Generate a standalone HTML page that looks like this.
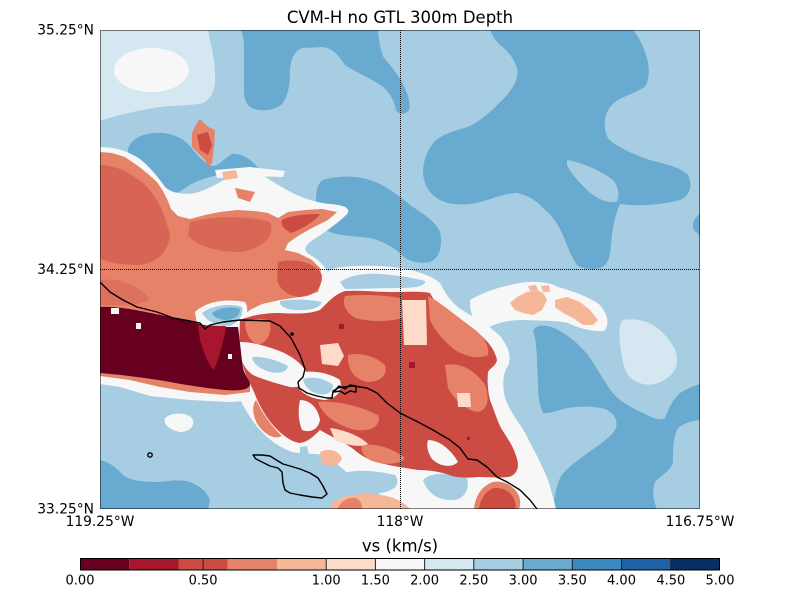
<!DOCTYPE html>
<html><head><meta charset="utf-8"><style>
html,body{margin:0;padding:0;background:#fff;}
svg{display:block;}
text{font-family:"DejaVu Sans","Liberation Sans",sans-serif;fill:#000;}
</style></head><body>
<svg width="800" height="600" viewBox="0 0 800 600" xmlns="http://www.w3.org/2000/svg">
<defs><clipPath id="c"><rect x="100" y="30" width="600" height="479"/></clipPath></defs>
<rect width="800" height="600" fill="#fff"/>
<g clip-path="url(#c)">
<rect x="100" y="30" width="600" height="479" fill="#a6cde2"/>
<path fill="#d5e7f1" d="M100,30 L208,30 C211,45 215,60 215,75 C216,88 212,98 203,103 C190,106 175,105 160,107 C140,110 118,115 100,121 Z"/>
<ellipse cx="151.5" cy="70" rx="37.5" ry="22" fill="#f7f7f7"/>
<g fill="#69aad0">
<path d="M241,30 L378,30 C379,40 380,50 384,58 C390,65 396,72 402,82 C407,92 411,102 409,110 C405,115 399,115 396,110 C394,100 390,93 382,86 C370,78 355,72 345,65 C338,55 333,48 322,47 L302,48 C294,52 291,58 290,70 C290,82 289,95 282,104 C277,109 268,111 258,110 C248,108 244,102 244,90 L244,50 C244,40 243,35 241,30 Z"/>
<path d="M490,30 L633,30 C640,38 645,50 648,62 C650,75 648,85 643,88 C635,93 625,96 618,100 C610,105 606,112 605,120 C604,130 606,138 612,142 C620,148 635,155 650,160 C665,164 680,167 688,175 C693,185 690,196 680,200 C665,204 645,206 630,205 L620,204 C615,215 612,230 611,245 C610,258 608,265 600,268 C592,270 582,269 577,265 C572,258 568,248 565,240 C560,228 555,218 545,210 C538,202 530,196 517,193 C505,193 495,198 480,202 C465,206 450,205 440,200 C430,195 424,185 423,173 C423,160 428,148 436,140 C446,132 460,130 470,126 C482,120 495,108 507,95 C515,85 519,77 517,68 C514,58 507,50 500,45 C495,40 492,35 490,30 Z"/>
<path d="M323,180 C335,176 355,175 370,180 C385,185 398,195 410,205 C425,215 436,222 440,232 C443,245 440,258 430,262 C420,264 410,262 403,256 C395,248 385,242 370,238 C355,236 340,236 330,232 C320,226 316,215 316,200 C316,190 318,183 323,180 Z"/>
<path d="M128,150 C130,140 140,134 155,133 C170,132 182,137 190,146 C196,154 202,162 212,166 C220,166 224,158 232,154 C242,153 252,160 258,168 C254,173 240,173 225,174 C210,176 198,180 188,186 C180,192 172,196 165,194 C155,190 147,182 140,172 C134,164 128,158 128,150 Z"/>
<path d="M700,214 C694,218 691,225 694,230 L700,236 Z"/>
<path d="M533,330 C538,324 548,324 560,331 C572,338 580,346 588,355 C596,366 603,380 612,392 C620,402 632,408 645,414 C653,418 660,421 665,418 C668,410 672,400 680,393 C688,388 694,386 700,384 L700,420 C692,421 684,423 678,428 C673,437 673,450 673,462 C670,472 660,476 655,482 C652,490 653,500 657,509 L553,509 C554,498 556,488 560,478 C566,468 578,460 592,450 C603,442 612,436 616,428 C618,420 614,413 605,409 C595,406 580,406 568,408 C558,410 550,414 543,413 C539,405 538,395 538,380 C537,365 537,348 535,338 Z"/>
<path d="M100,460 C108,462 115,466 122,474 C128,480 140,482 157,482 C170,481 180,479 190,482 C200,486 207,492 210,500 L208,509 L100,509 Z"/>
</g>
<path fill="#a6cde2" d="M567,160 C580,162 600,170 613,180 C619,187 620,198 616,202 C605,203 595,198 585,188 C577,180 570,172 567,165 Z"/>
<path fill="#d5e7f1" d="M623,320 C635,318 650,320 662,332 C672,342 678,352 677,362 C676,372 668,380 655,384 C645,386 635,383 629,376 C623,368 621,355 620,343 C619,332 619,324 623,320 Z"/>
<g fill="#f7f7f7">
<path d="M165,418 C172,412 185,412 192,418 C196,425 190,432 180,432 C170,430 163,425 165,418 Z"/>
<path d="M100,147 C115,147 128,151 140,159 C150,167 158,177 165,187 C172,193 182,195 195,193 C210,189 220,182 232,175 C240,170 246,167 252,170 C262,174 270,180 280,186 C295,195 310,202 330,204 C342,205 350,207 348,213 C340,222 325,232 310,242 C303,248 304,252 312,256 C322,262 330,272 334,285 L334,300 L100,300 Z"/>
<path d="M232,300 C250,292 275,288 300,285 C312,282 322,274 335,268 C355,265 380,265 400,268 C418,271 432,276 440,283 C445,292 450,302 462,310 C475,318 490,326 500,336 C508,346 512,356 508,366 C503,372 502,385 505,398 C510,410 515,418 521,426 C527,436 531,445 535,452 C540,462 545,472 548,480 C551,490 554,500 556,509 L400,509 C392,502 380,494 365,485 C352,477 340,468 332,458 C320,452 305,455 292,452 C278,447 265,437 255,424 C246,412 240,400 236,390 C233,375 232,350 232,300 Z"/>
<path d="M470,300 C480,294 495,288 510,285 C525,281 545,280 558,287 C572,291 588,296 600,305 C608,315 610,325 604,331 C592,332 578,328 568,323 C555,320 540,321 525,320 C510,320 498,322 488,328 C478,330 470,320 470,300 Z"/>
<path d="M215,170 L250,167 L285,171 L283,177 L250,176 L217,178 Z"/>
</g>
<g fill="#a6cde2">
<path d="M423,480 C430,472 450,472 467,478 C470,488 465,498 455,500 C440,501 428,495 423,480 Z"/>
<path d="M330,478 C345,469 370,469 395,475 C401,483 396,491 380,493 C360,494 340,490 330,478 Z"/>
<path d="M300,447 L307,446 L309,455 L300,457 Z"/>
<path d="M343,428 L356,427 L357,436 L344,437 Z"/>
<path d="M340,282 C350,275 365,273 380,274 C395,275 410,277 425,281 C426,286 415,288 400,288 C380,288 360,289 345,289 Z"/>
</g>
<g fill="#f6b698">
<path d="M320,452 C328,448 338,450 342,458 C340,466 330,468 322,464 Z"/>
<path d="M222,172 L236,170 L238,178 L224,180 Z"/>
</g>
<path fill="#f6b698" d="M330,509 C332,500 345,494 365,494 C385,494 400,498 410,509 Z"/>
<path fill="#e58268" d="M338,509 C340,501 348,497 356,498 C362,501 362,506 362,509 Z"/>
<!-- left salmon region -->
<path fill="#e58268" d="M100,152 L112,153 L125,157 L138,166 L148,174 L157,182 L163,191 L168,201 L171,209 L178,216 L190,219 L205,215 L220,212 L237,210 L255,211 L268,213 L278,218 L288,212 L305,210 L322,209 L337,212 L328,220 L312,228 L298,236 L288,243 L285,250 L298,253 L312,260 L320,268 L322,280 L318,292 L300,297 L280,300 L262,304 L250,310 L240,318 L232,326 L100,326 Z"/>
<g fill="#cc4c44">
<path opacity="0.55" d="M100,165 C115,165 130,172 145,185 C158,198 165,215 170,235 C168,250 160,262 140,265 C120,265 105,262 100,258 Z"/>
<path opacity="0.5" d="M190,222 C215,216 245,215 270,222 C275,235 265,248 240,252 C215,252 195,245 188,235 Z"/>
<path opacity="0.8" d="M278,262 C295,258 315,262 322,275 C322,288 315,296 300,297 C288,296 280,290 277,280 Z"/>
<path opacity="0.3" d="M100,280 C120,278 140,285 150,300 C140,305 120,306 100,305 Z"/>
<path d="M282,220 C292,215 305,214 320,214 C314,222 302,229 291,233 C284,229 280,225 282,220 Z"/>
</g>
<path fill="#e58268" d="M235,188 L255,192 L250,202 L238,198 Z"/>
<path fill="#a6cde2" d="M280,301 C292,299 310,299 322,302 C320,308 310,311 295,310 C285,309 279,306 280,301 Z"/>
<path fill="#f7f7f7" d="M195,312 C205,302 225,298 245,302 C250,310 246,322 238,329 C225,331 208,330 197,324 Z"/>
<path fill="#a6cde2" d="M202,313 C212,305 230,303 242,307 C244,315 238,323 230,326 C218,326 207,322 202,313 Z"/>
<path fill="#69aad0" d="M212,313 C220,307 232,306 240,309 C240,316 234,320 225,320 C218,319 213,317 212,313 Z"/>
<path fill="#f7f7f7" d="M100,370 L250,380 L262,400 L230,402 L190,400 L150,396 L120,387 L100,384 Z"/>
<path fill="#e58268" d="M100,371 L250,381 L250,392 L225,395 L190,392 L160,387 L130,380 L100,376 Z"/>
<!-- central red -->
<path fill="#cc4c44" d="M240,320 C250,316 262,313 280,313 C295,314 310,314 320,310 C328,302 335,294 345,291 C360,290 375,292 390,292 C405,292 420,291 430,293 C434,300 438,308 448,314 C458,320 468,326 478,333 C488,341 495,350 497,360 C496,366 490,368 488,372 C487,382 488,392 490,400 C494,410 497,420 501,428 C506,436 510,442 513,448 C516,455 518,460 518,466 C517,472 514,476 508,477 C498,478 488,477 478,477 C468,478 460,478 452,476 C442,472 430,470 418,470 C405,468 392,466 380,463 C368,460 360,455 352,448 C343,442 330,436 320,430 C314,436 308,442 300,443 C290,442 280,433 272,424 C264,414 258,403 254,392 C250,383 245,375 242,362 C240,350 239,335 240,320 Z"/>
<g fill="#e58268">
<path d="M345,296 C360,294 385,295 400,298 L402,318 C390,322 370,322 355,318 C345,312 342,303 345,296 Z"/>
<path d="M428,296 C440,302 455,315 470,326 C482,334 490,345 488,355 C478,360 465,356 455,350 C445,342 435,332 430,320 Z"/>
<path d="M445,365 C460,362 475,370 485,385 C490,398 488,410 478,412 C465,410 455,400 448,388 Z"/>
<path d="M245,322 C255,318 265,318 270,322 C272,332 268,342 258,345 C250,342 245,332 245,322 Z"/>
<path d="M348,355 C360,352 375,356 385,365 C388,375 380,382 368,382 C355,380 347,370 348,355 Z"/>
<path d="M318,402 C335,400 360,406 378,415 C382,425 372,432 355,430 C338,426 322,415 318,402 Z"/>
<path d="M362,445 C375,443 392,448 405,458 C400,465 385,465 372,461 C364,457 360,451 362,445 Z"/>
<path d="M256,400 C262,412 270,425 282,436 C275,440 265,435 258,425 C252,415 252,405 256,400 Z"/>
</g>
<path fill="#f7f7f7" d="M300,400 C310,400 318,408 320,420 C318,430 310,433 302,430 C298,420 298,410 300,400 Z"/>
<path fill="#f7f7f7" d="M428,440 C438,440 450,448 458,462 C452,468 440,467 432,459 C428,453 426,446 428,440 Z"/>
<path fill="#fddbc8" d="M330,428 C345,430 360,436 368,444 C360,448 345,445 335,440 Z"/>
<g fill="#fddbc8">
<path d="M402,300 L426,300 L427,345 L404,345 Z"/>
<path d="M320,345 L338,343 L344,356 L338,366 L322,364 Z"/>
<path d="M457,393 L470,393 L471,407 L458,407 Z"/>
</g>
<g fill="#a6172d">
<rect x="339" y="324" width="5" height="5"/>
<rect x="409" y="362" width="6" height="6"/>
<rect x="467" y="437" width="3" height="3"/>
</g>
<path fill="#f7f7f7" d="M240,342 C250,342 265,345 282,352 C295,358 305,366 308,377 C306,385 298,388 290,387 C278,384 265,380 255,376 C247,372 242,364 240,355 Z"/>
<path fill="#a6cde2" d="M252,357 C262,356 275,359 288,366 C287,372 280,374 270,372 C260,369 253,364 252,357 Z"/>
<path fill="#f7f7f7" d="M297,373 C310,370 328,372 340,380 C343,390 338,398 325,400 C312,399 302,394 298,387 Z"/>
<path fill="#a6cde2" d="M303,379 C312,376 325,378 333,385 C333,392 326,396 318,394 C310,392 304,386 303,379 Z"/>
<!-- dark red -->
<path fill="#67001f" d="M100,307 C120,306 140,311 165,316 C185,320 200,324 213,327 L238,327 C240,340 241,355 243,368 C245,376 250,380 250,385 C248,390 240,391 225,390 C205,388 185,385 165,381 C145,378 125,375 100,373 Z"/>
<path fill="#a6172d" d="M198,325 L226,326 C224,340 220,355 214,370 C208,365 203,350 200,340 Z"/>
<g fill="#f7f7f7">
<rect x="111" y="308" width="8" height="6"/>
<rect x="136" y="323" width="5" height="6"/>
<rect x="228" y="354" width="4" height="5"/>
</g>
<path fill="#e58268" d="M200,119 L208,127 L215,130 L214,147 L212,163 L208,167 L205,160 L197,152 L192,147 L192,133 L197,123 Z"/>
<path fill="#cc4c44" d="M197,135 L208,132 L212,145 L208,155 L200,150 Z"/>
<path fill="#e58268" d="M474,509 C475,497 481,486 493,482 C505,480 515,487 519,496 C521,502 520,506 519,509 Z"/>
<path fill="#cc4c44" d="M479,509 C480,500 485,491 494,488 C503,487 511,492 514,499 C516,503 516,506 515,509 Z"/>
<g fill="#f6b698">
<path d="M510,303 L517,297 L527,292 L537,290 L543,293 L547,300 L542,310 L533,315 L523,313 L515,310 Z"/>
<path d="M555,300 L567,297 L580,302 L590,310 L598,320 L593,325 L583,325 L573,318 L563,313 L555,307 Z"/>
<path d="M528,286 L536,285 L538,290 L530,291 Z"/>
<path d="M541,286 L549,285 L550,292 L543,292 Z"/>
</g>
<g fill="none" stroke="#000" stroke-width="1.4" stroke-linejoin="round">
<path d="M100,282 L110,292 L123,300 L137,307 L157,312 L173,318 L190,321 L200,323 L205,329 L210,325 L223,322 L240,320 L270,321 L280,326 L291,338 L300,355 L305,369 L303,377 L298,382 L299,388 L307,393 L317,396 L327,398 L332,398 L333,391 L338,388 L343,387 L353,386 L367,388 L377,393 L387,403 L400,413 L420,423 L433,430 L450,440 L460,448 L468,459 L477,460 L487,467 L497,477 L507,482 L520,490 L530,500 L537,509"/>
<path d="M334,392 L339,386 L345,389 L350,385 L356,386 L356,392 L350,391 L345,394 L340,391 Z"/>
<path d="M253,455 L262,455 L270,456 L278,461 L283,464 L290,466 L300,469 L310,473 L318,478 L323,486 L327,494 L322,498 L312,497 L300,495 L290,493 L285,490 L283,483 L282,472 L278,468 L270,466 L262,462 L256,459 Z"/>
<circle cx="150" cy="455" r="2.2"/>
</g>
<circle cx="292" cy="334" r="1.8" fill="#000"/>
</g>
<g fill="none" stroke="#000" stroke-width="1" stroke-dasharray="1,1">
<rect x="100.5" y="30.5" width="599" height="478"/>
<line x1="400.5" y1="30" x2="400.5" y2="509"/>
<line x1="100" y1="269.5" x2="700" y2="269.5"/>
</g>
<text x="400" y="23" font-size="16.5" text-anchor="middle">CVM-H no GTL 300m Depth</text>
<g font-size="13.8" text-anchor="end">
<text x="94" y="34.5">35.25°N</text>
<text x="94" y="274">34.25°N</text>
<text x="94" y="513.5">33.25°N</text>
</g>
<g font-size="13.8" text-anchor="middle">
<text x="100" y="526">119.25°W</text>
<text x="400" y="526">118°W</text>
<text x="700" y="526">116.75°W</text>
</g>
<text x="400" y="551.5" font-size="16.5" text-anchor="middle">vs (km/s)</text>
<g>
<rect x="80" y="558" width="49.3" height="12" fill="#67001f"/>
<rect x="129.2" y="558" width="49.3" height="12" fill="#a6172d"/>
<rect x="178.5" y="558" width="49.3" height="12" fill="#cc4c44"/>
<rect x="227.7" y="558" width="49.3" height="12" fill="#e58268"/>
<rect x="276.9" y="558" width="49.3" height="12" fill="#f6b698"/>
<rect x="326.2" y="558" width="49.3" height="12" fill="#fddbc8"/>
<rect x="375.4" y="558" width="49.3" height="12" fill="#f7f7f7"/>
<rect x="424.6" y="558" width="49.3" height="12" fill="#d5e7f1"/>
<rect x="473.8" y="558" width="49.3" height="12" fill="#a6cde2"/>
<rect x="523.1" y="558" width="49.3" height="12" fill="#69aad0"/>
<rect x="572.3" y="558" width="49.3" height="12" fill="#3a88c0"/>
<rect x="621.5" y="558" width="49.3" height="12" fill="#1f60a6"/>
<rect x="670.8" y="558" width="49.2" height="12" fill="#053061"/>
</g>
<g stroke="#222" stroke-width="1">
<line x1="203.1" y1="558" x2="203.1" y2="570"/>
<line x1="326.2" y1="558" x2="326.2" y2="570"/>
<line x1="375.4" y1="558" x2="375.4" y2="570"/>
<line x1="424.6" y1="558" x2="424.6" y2="570"/>
<line x1="473.8" y1="558" x2="473.8" y2="570"/>
<line x1="523.1" y1="558" x2="523.1" y2="570"/>
<line x1="572.3" y1="558" x2="572.3" y2="570"/>
<line x1="621.5" y1="558" x2="621.5" y2="570"/>
<line x1="670.8" y1="558" x2="670.8" y2="570"/>
</g>
<rect x="80.5" y="558.5" width="639" height="11.5" fill="none" stroke="#000" stroke-width="1"/>
<g font-size="13" text-anchor="middle">
<text x="80" y="584.5">0.00</text>
<text x="203.1" y="584.5">0.50</text>
<text x="326.2" y="584.5">1.00</text>
<text x="375.4" y="584.5">1.50</text>
<text x="424.6" y="584.5">2.00</text>
<text x="473.8" y="584.5">2.50</text>
<text x="523.1" y="584.5">3.00</text>
<text x="572.3" y="584.5">3.50</text>
<text x="621.5" y="584.5">4.00</text>
<text x="670.8" y="584.5">4.50</text>
<text x="720" y="584.5">5.00</text>
</g>
</svg>
</body></html>
